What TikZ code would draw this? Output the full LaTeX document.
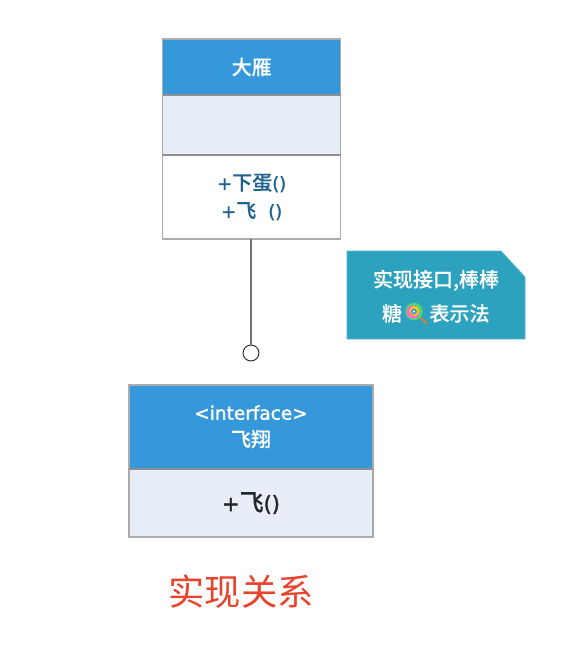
\documentclass[tikz,border=0pt]{standalone}
\usepackage{fontspec}
\setmainfont{Noto Sans CJK SC}[BoldFont={Noto Sans CJK SC Medium},BoldFeatures={FakeBold=0.12}]
\newfontfamily\lat{DejaVu Sans}[FakeBold=1.6]
\usetikzlibrary{calc}
\definecolor{hdr}{HTML}{3498DB}
\definecolor{pale}{HTML}{E8EEF8}
\definecolor{edge}{HTML}{ABABAF}
\definecolor{divline}{HTML}{8F8F93}
\definecolor{notefill}{HTML}{2DA2BF}
\definecolor{methodblue}{HTML}{1F6391}
\definecolor{redtitle}{HTML}{E8432C}
\definecolor{ink}{HTML}{23272B}
\tikzset{
  x=1pt,y=-1pt,
  sz/.style 2 args={minimum width=#1pt,minimum height=#2pt},
  box/.style={draw=edge,line width=1.2pt,rectangle,inner sep=0pt,outer sep=0pt,align=center,anchor=north west,font=\bfseries\fontsize{20}{28}\selectfont},
  head/.style={box,fill=hdr,text=white},
  palebox/.style={box,fill=pale},
  whitebox/.style={box,fill=white,text=methodblue},
  notetext/.style={text=white,align=center,inner sep=0pt,outer sep=0pt,font=\bfseries\fontsize{20}{34}\selectfont},
  wire/.style={draw=black!55,line width=1.2pt},
}
\begin{document}
\begin{tikzpicture}
\useasboundingbox (0,0) rectangle (564,656);
% class
\node[palebox,sz={178}{60}] (mid) at (162.7,95) {};
\node[whitebox,sz={178}{84}] (methods) at (162.7,155) {{\lat\mdseries\fontsize{18}{28}\selectfont +}下蛋{\lat\mdseries\fontsize{18}{28}\selectfont ()}\\{\lat\mdseries\fontsize{18}{28}\selectfont +}飞\hspace{12pt}{\lat\mdseries\fontsize{18}{28}\selectfont ()}};
\node[head,sz={178}{56}] (goose) at (162.7,39) {大雁};
\draw[divline,line width=1.3pt] (mid.north west) -- (mid.north east);
\draw[divline,line width=1.3pt] (mid.south west) -- (mid.south east);
% interface
\node[head,sz={244}{84}] (iface) at (129,385) {\raisebox{-1pt}{\lat\mdseries\fontsize{18.5}{26}\selectfont <interface>}\\飞翔};
\node[palebox,text=ink,sz={244}{68},font=\bfseries\fontsize{24}{28}\selectfont] (fly) at (129,469) {\raisebox{-2pt}{{\lat\mdseries\fontsize{21}{28}\selectfont +}飞{\lat\mdseries\fontsize{21}{28}\selectfont ()}}};
\draw[divline,line width=1.3pt] (fly.north west) -- (fly.north east);
% connector
\node[circle,draw=black!85,line width=0.9pt,fill=white,minimum size=16pt,inner sep=0pt,outer sep=0pt] (lolly) at (251,353) {};
\draw[wire] (lolly.north |- methods.south) -- (lolly.north);
% note
\fill[notefill,draw=notefill!80!white,line width=0.8pt] (347,251) -- (501,251) -- (525,277) -- (525,339) -- (347,339) -- cycle;
\coordinate (lp) at (414,311.5);
\draw[line width=1.6pt,color=orange!70!brown] (lp) -- (427,324);
\fill[green!55!teal!70!white] (lp) circle (8.8);
\fill[magenta!55!white] (lp) ++(-1,0.5) circle (6.6);
\fill[yellow!70!orange] (lp) ++(0.5,-0.5) circle (4.8);
\fill[cyan!55!blue!70!white] (lp) circle (3);
\fill[white!80!pink] (lp) circle (1.2);
\node[notetext,anchor=center] (note1) at (436,280.3) {实现接口,棒棒};
\node[notetext,anchor=center] (note2) at (392,313.3) {糖};
\node[notetext,anchor=center] (note3) at (459.5,313.3) {表示法};
% caption
\node[text=redtitle,inner sep=0pt,outer sep=0pt,font=\fontsize{36.3}{40}\selectfont] (caption) at (241,592) {实现关系};
\end{tikzpicture}
\end{document}
